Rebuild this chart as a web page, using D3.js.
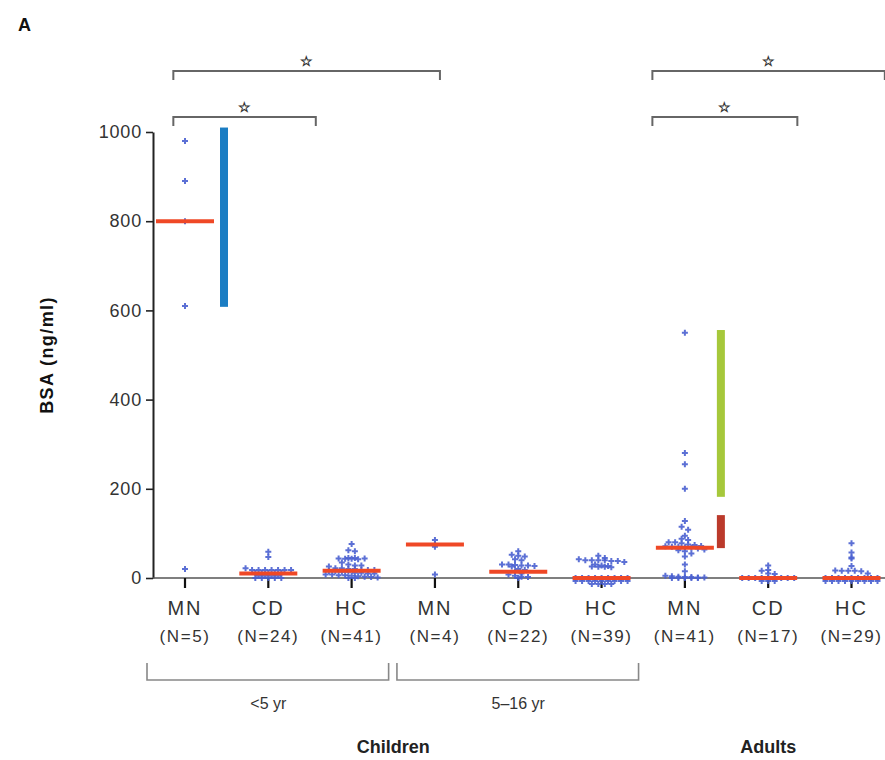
<!DOCTYPE html>
<html>
<head>
<meta charset="utf-8">
<script src="https://cdn.jsdelivr.net/npm/d3@7"></script>
<style>
  html, body { margin: 0; padding: 0; background: #fff; }
  svg { display: block; }
  text { font-family: "Liberation Sans", Arial, sans-serif; }
</style>
</head>
<body>
<svg id="chart" width="885" height="760"></svg>
<script>
// Serum BSA by study group
const categories = ["MN", "CD", "HC", "MN", "CD", "HC", "MN", "CD", "HC"];
const counts = [5, 24, 41, 4, 22, 39, 41, 17, 29];
const medians = [800, 10, 16, 75, 14, 0, 68, 0, 0];

const mnUnder5 = [980, 890, 800, 610, 20];
const cdUnder5 = [59, 47, 22, 18, 18, 18, 18, 18, 18, 18, 12, 12, 12, 12, 12, 5, 5, 5, 5, 0, 0, 0, 0, 0];
const hcUnder5 = [76, 62, 60, 45, 44, 43, 43, 42, 44, 45, 35, 30, 28, 28, 26, 22, 22, 20, 20, 18, 18, 18,
                  15, 15, 14, 14, 12, 12, 10, 10, 8, 8, 6, 6, 5, 4, 3, 2, 1, 0, 0];
const mn5to16 = [85, 75, 70, 8];
const cd5to16 = [60, 52, 50, 48, 42, 40, 30, 30, 29, 28, 28, 27, 26, 20, 18, 15, 10, 8, 5, 3, 2, 0];
const hc5to16 = [50, 45, 42, 40, 40, 40, 40, 38, 38, 36, 30, 28, 27, 26, 25, 25, 24,
                 0, 0, 0, 0, 0, 0, 0, 0, 0, 0, 0, 0, 0, 0, 0, 0, 0, 0, 0, 0, 0, 0];
const mnAdult = [550, 280, 255, 200, 128, 115, 108, 95, 88, 85, 80, 80, 78, 75, 74, 72, 71, 70, 70, 69,
                 68, 66, 64, 62, 60, 55, 48, 30, 15, 5, 4, 3, 2, 2, 1, 1, 0, 0, 0, 0, 0];
const cdAdult = [28, 18, 16, 10, 9, 0, 0, 0, 0, 0, 0, 0, 0, 0, 0, 0, 0];
const hcAdult = [78, 57, 46, 44, 27, 17, 16, 16, 16, 15, 10, 0, 0, 0, 0, 0, 0, 0, 0, 0, 0, 0, 0, 0, 0, 0, 0, 0, 0];

const groupValues = [mnUnder5, cdUnder5, hcUnder5, mn5to16, cd5to16, hc5to16, mnAdult, cdAdult, hcAdult];

const yTicks = [0, 200, 400, 600, 800, 1000];

// Ranges shown as vertical bars beside the MN groups (group index, low, high)
const rangeGroups = [0, 6, 6];
const rangeLow = [608, 182, 67];
const rangeHigh = [1010, 556, 141];
const rangeColors = ["#1b7dc3", "#a6c83b", "#bb3a2b"];

// Significance brackets, ends given in category-index units
const sigFrom = [-0.14, -0.14, 5.61, 5.61];
const sigTo = [3.06, 1.57, 7.35, 8.4];
const sigLevel = [0, 1, 1, 0];

const ageLabels = ["<5 yr", "5\u201316 yr"];
const ageFrom = [0, 3];
const ageTo = [2, 5];

const popLabels = ["Children", "Adults"];
const popFrom = [0, 6];
const popTo = [5, 8];

// ---------------------------------------------------------------
const svg = d3.select("#chart");
svg.append("rect").attr("width", 885).attr("height", 760).attr("fill", "#fff");

const x = d3.scaleLinear().domain([0, 8]).range([185, 851.5]);
const y = d3.scaleLinear().domain([0, 1000]).range([578, 132]);
const axisX = 153;

// panel letter
svg.append("text").attr("x", 18).attr("y", 31)
  .attr("font-size", 18).attr("font-weight", "bold").attr("fill", "#111").text("A");

// y axis
const yAxis = svg.append("g").attr("transform", `translate(${axisX},0)`)
  .call(d3.axisLeft(y).tickValues(yTicks).tickFormat(d3.format("d"))
    .tickSize(7).tickSizeOuter(0).tickPadding(4));
yAxis.select(".domain").attr("stroke", "#222").attr("stroke-width", 2);
yAxis.selectAll(".tick line").attr("stroke", "#222").attr("stroke-width", 1.6);
yAxis.selectAll(".tick text").attr("font-size", 18).attr("fill", "#333")
  .attr("letter-spacing", 0.8).attr("font-family", "Liberation Sans, Arial, sans-serif");

svg.append("text")
  .attr("transform", `translate(53,355) rotate(-90)`)
  .attr("text-anchor", "middle").attr("font-size", 18).attr("font-weight", "bold")
  .attr("letter-spacing", 1.4).attr("fill", "#111").text("BSA (ng/ml)");

// x baseline and category ticks
svg.append("line").attr("x1", axisX).attr("x2", 885).attr("y1", y(0)).attr("y2", y(0))
  .attr("stroke", "#555").attr("stroke-width", 1.6);
svg.append("g").selectAll("line").data(categories).join("line")
  .attr("x1", (d, i) => x(i)).attr("x2", (d, i) => x(i))
  .attr("y1", y(0)).attr("y2", y(0) + 10)
  .attr("stroke", "#111").attr("stroke-width", 2.2);

// category labels
const catLabels = svg.append("g").attr("fill", "#333").attr("text-anchor", "middle");
catLabels.selectAll("text.cat").data(categories).join("text").attr("class", "cat")
  .attr("x", (d, i) => x(i)).attr("y", 615)
  .attr("font-size", 20).attr("letter-spacing", 2).text(d => d);
catLabels.selectAll("text.n").data(counts).join("text").attr("class", "n")
  .attr("x", (d, i) => x(i)).attr("y", 642)
  .attr("font-size", 17).attr("letter-spacing", 1.6).text(d => `(N=${d})`);

// age brackets
const ageG = svg.append("g");
ageLabels.forEach((lab, i) => {
  const x0 = x(ageFrom[i]) - 38, x1 = x(ageTo[i]) + 37;
  ageG.append("path")
    .attr("d", `M${x0},663 V680 H${x1} V663`)
    .attr("fill", "none").attr("stroke", "#888").attr("stroke-width", 1.6);
  ageG.append("text").attr("x", (x(ageFrom[i]) + x(ageTo[i])) / 2).attr("y", 709)
    .attr("text-anchor", "middle").attr("font-size", 16).attr("fill", "#333").text(lab);
});

// population labels
popLabels.forEach((lab, i) => {
  svg.append("text").attr("x", (x(popFrom[i]) + x(popTo[i])) / 2).attr("y", 753)
    .attr("text-anchor", "middle").attr("font-size", 18).attr("font-weight", "bold")
    .attr("fill", "#222").text(lab);
});

// significance brackets
const levelY = [71, 117];
sigFrom.forEach((f, i) => {
  const x0 = x(f), x1 = x(sigTo[i]), yy = levelY[sigLevel[i]];
  svg.append("path").attr("d", `M${x0},${yy + 9} V${yy} H${x1} V${yy + 9}`)
    .attr("fill", "none").attr("stroke", "#666").attr("stroke-width", 2);
  svg.append("text").attr("x", (x0 + x1) / 2).attr("y", yy - 5)
    .attr("text-anchor", "middle").attr("font-size", 14).attr("font-weight", "bold")
    .attr("font-family", "DejaVu Sans, sans-serif").attr("fill", "#333").text("\u2606");
});

// range bars
rangeGroups.forEach((g, i) => {
  const cx = x(g) + (i === 0 ? 39 : 36);
  svg.append("rect").attr("x", cx - 4).attr("width", 8)
    .attr("y", y(rangeHigh[i])).attr("height", y(rangeLow[i]) - y(rangeHigh[i]))
    .attr("fill", rangeColors[i]);
});

// individual values laid out as a dot plot: equal values share a row
const pointSym = d3.symbol().type(d3.symbolCross).size(20);
const ptsG = svg.append("g").attr("fill", "#4a60d0").attr("fill-opacity", 0.9);
const binPx = 4, spacing = 6.5, maxRow = 9;
groupValues.forEach((vals, gi) => {
  const cx = x(gi);
  const bins = d3.groups(vals, v => Math.round(y(v) / binPx));
  bins.forEach(([, items]) => {
    for (let r = 0; r * maxRow < items.length; r++) {
      const row = items.slice(r * maxRow, (r + 1) * maxRow);
      const n = row.length;
      row.forEach((v, j) => {
        ptsG.append("path").attr("d", pointSym)
          .attr("transform", `translate(${cx + (j - (n - 1) / 2) * spacing},${y(v) + r * 3})`);
      });
    }
  });
});

// median lines
svg.append("g").selectAll("line").data(medians).join("line")
  .attr("x1", (d, i) => x(i) - 29).attr("x2", (d, i) => x(i) + 29)
  .attr("y1", d => y(d)).attr("y2", d => y(d))
  .attr("stroke", "#ef4826").attr("stroke-width", 4);
</script>
</body>
</html>
